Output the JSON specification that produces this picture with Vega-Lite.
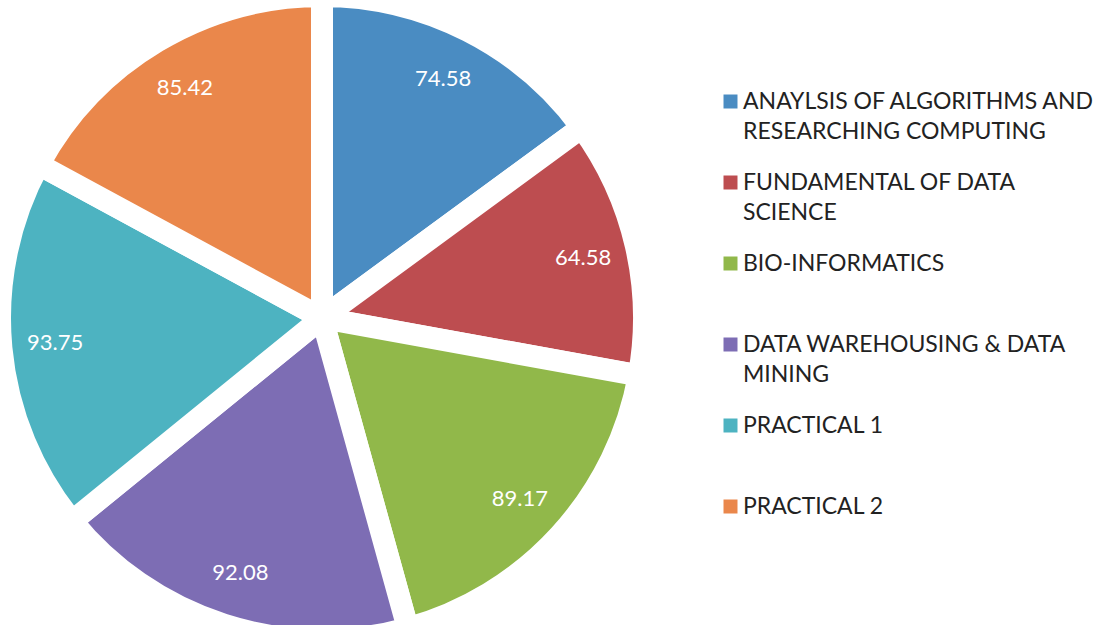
{
  "$schema": "https://vega.github.io/schema/vega-lite/v6.json",
  "width": 644,
  "height": 636,
  "autosize": {"type": "none"},
  "padding": {"left": 0, "top": 0, "right": 452, "bottom": 0},
  "background": "white",
  "data": {
    "values": [
      {"n": 1, "subject": "ANAYLSIS OF ALGORITHMS AND RESEARCHING COMPUTING", "score": 74.58},
      {"n": 2, "subject": "FUNDAMENTAL OF DATA SCIENCE", "score": 64.58},
      {"n": 3, "subject": "BIO-INFORMATICS", "score": 89.17},
      {"n": 4, "subject": "DATA WAREHOUSING & DATA MINING", "score": 92.08},
      {"n": 5, "subject": "PRACTICAL 1", "score": 93.75},
      {"n": 6, "subject": "PRACTICAL 2", "score": 85.42}
    ]
  },
  "encoding": {
    "theta": {"field": "score", "type": "quantitative", "stack": true},
    "order": {"field": "n", "type": "quantitative"},
    "color": {
      "field": "subject",
      "type": "nominal",
      "scale": {
        "domain": [
          "ANAYLSIS OF ALGORITHMS AND RESEARCHING COMPUTING",
          "FUNDAMENTAL OF DATA SCIENCE",
          "BIO-INFORMATICS",
          "DATA WAREHOUSING & DATA MINING",
          "PRACTICAL 1",
          "PRACTICAL 2"
        ],
        "range": ["#4a8cc2", "#bd4d50", "#91b84a", "#7d6db4", "#4db3c1", "#ea874b"]
      },
      "legend": {
        "title": null,
        "orient": "none",
        "legendX": 719,
        "legendY": 90,
        "symbolType": "square",
        "symbolSize": 196,
        "symbolStrokeWidth": 0,
        "labelFont": "Lato",
        "labelFontSize": 23,
        "labelColor": "#222222",
        "labelLimit": 400,
        "labelOffset": 1,
        "gridAlign": "all",
        "rowPadding": 27,
        "labelExpr": "datum.label == 'ANAYLSIS OF ALGORITHMS AND RESEARCHING COMPUTING' ? ['ANAYLSIS OF ALGORITHMS AND', 'RESEARCHING COMPUTING'] : datum.label == 'FUNDAMENTAL OF DATA SCIENCE' ? ['FUNDAMENTAL OF DATA', 'SCIENCE'] : datum.label == 'DATA WAREHOUSING & DATA MINING' ? ['DATA WAREHOUSING & DATA', 'MINING'] : datum.label"
      }
    }
  },
  "layer": [
    {
      "mark": {"type": "arc", "radius": 322, "stroke": "white", "strokeWidth": 22, "strokeJoin": "miter"}
    },
    {
      "mark": {"type": "text", "radius": 268, "font": "Lato", "fontSize": 22, "fill": "white"},
      "encoding": {
        "text": {"field": "score", "type": "quantitative", "format": ".2f"},
        "color": {"value": "white"}
      }
    }
  ],
  "config": {
    "view": {"stroke": null},
    "style": {"guide-label": {"lineHeight": 30}}
  }
}
